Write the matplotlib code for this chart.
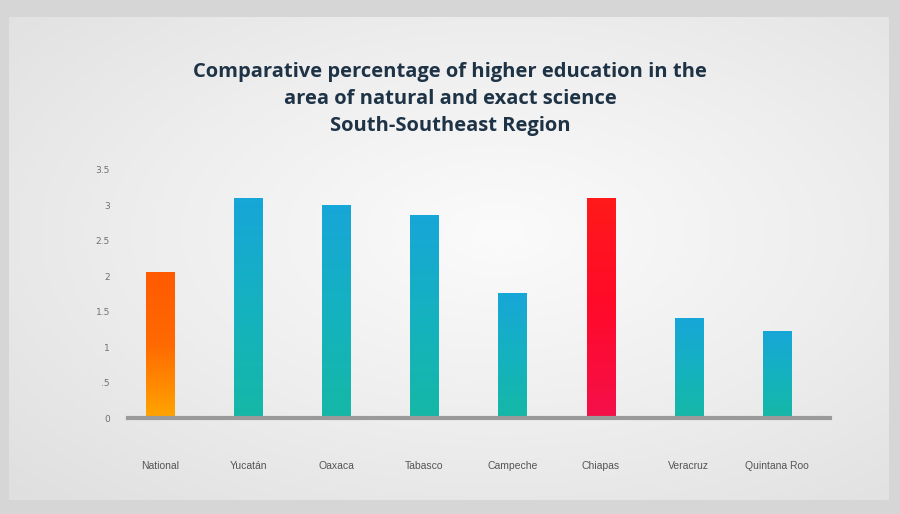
import numpy as np
import matplotlib
matplotlib.use("Agg")
import matplotlib.pyplot as plt
from matplotlib.colors import LinearSegmentedColormap

categories = ["National", "Yucatán", "Oaxaca", "Tabasco", "Campeche", "Chiapas", "Veracruz", "Quintana Roo"]
values = [2.06, 3.11, 3.01, 2.87, 1.77, 3.11, 1.41, 1.23]
yticks = [0, 0.5, 1, 1.5, 2, 2.5, 3, 3.5]
yticklabels = ["0", ".5", "1", "1.5", "2", "2.5", "3", "3.5"]
title = ("Comparative percentage of higher education in the\n"
         "area of natural and exact science\n"
         "South-Southeast Region")

W, H = 900, 514
fig = plt.figure(figsize=(W / 100, H / 100), dpi=100)
fig.patch.set_facecolor("#d6d6d6")

# background panel with radial gradient
bg = fig.add_axes([9 / W, (H - 500) / H, 880 / W, 483 / H])
bg.set_axis_off()
yy, xx = np.mgrid[0:200, 0:360]
cx, cy = 200, 110
d = np.sqrt(((xx - cx) / 360) ** 2 + ((yy - cy) / 200) ** 2)
d = np.clip(d / d.max(), 0, 1)
bgcmap = LinearSegmentedColormap.from_list("bg", ["#fbfbfb", "#eeeeee", "#dfdfdf"])
bg.imshow(d, cmap=bgcmap, aspect="auto", extent=[0, 1, 0, 1], origin="lower")
bg.set_xlim(0, 1)
bg.set_ylim(0, 1)

fig.text(0.5, (H - 62) / H, title, ha="center", va="top", fontsize=14.5,
         fontweight="bold", color="#1e3346", family="Open Sans", linespacing=1.47)

ax = fig.add_axes([128 / W, 96 / H, 702 / W, 248 / H])
ax.patch.set_alpha(0)
x = np.arange(len(categories))
colors = ["#ff7a00"] + ["#15b0c8"] * 4 + ["#f5102e"] + ["#15b0c8"] * 2
bars = ax.bar(x, values, width=0.32, color=colors, zorder=2)

grads = {
    "#ff7a00": ["#ffa400", "#ff6a00", "#ff5a00"],
    "#15b0c8": ["#14b8a6", "#15b2c0", "#17a6d8"],
    "#f5102e": ["#f5104a", "#ff0a2a", "#ff1a1a"],
}
for b, c in zip(bars, colors):
    cm = LinearSegmentedColormap.from_list("g", grads[c])
    x0, y0 = b.get_x(), b.get_y()
    im = ax.imshow(np.linspace(0, 1, 100).reshape(-1, 1), cmap=cm, origin="lower",
                   extent=[x0, x0 + b.get_width(), y0, y0 + b.get_height()],
                   aspect="auto", zorder=3)
    im.set_clip_path(b)

ax.set_xlim(-0.363, 7.601)
ax.set_ylim(0, 3.5)
for s in ["top", "right", "left"]:
    ax.spines[s].set_visible(False)
ax.spines["bottom"].set_color("#9a9a9a")
ax.spines["bottom"].set_linewidth(3)
ax.spines["bottom"].set_zorder(4)
ax.set_yticks(yticks)
ax.set_yticklabels(yticklabels, fontsize=6.5, color="#707070")
ax.tick_params(axis="y", length=0, pad=13)
ax.set_xticks(x)
ax.set_xticklabels(categories, fontsize=7.5, color="#555555", family="Liberation Sans")
ax.tick_params(axis="x", length=0, pad=31)

fig.savefig("out.png", dpi=100, facecolor=fig.get_facecolor())
